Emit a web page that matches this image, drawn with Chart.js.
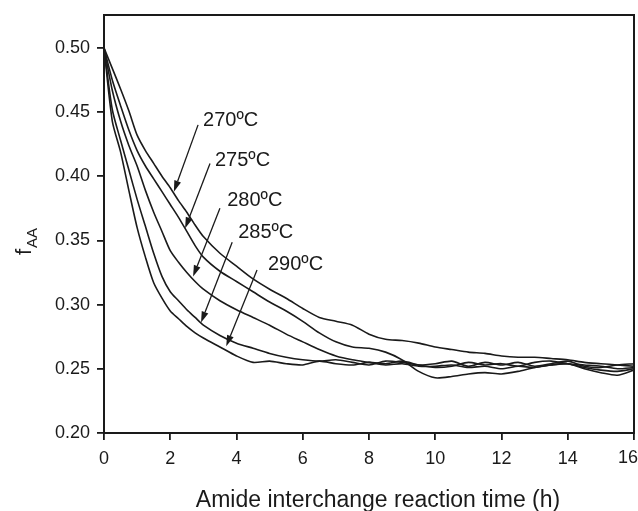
<!DOCTYPE html>
<html>
<head>
<meta charset="utf-8">
<script src="https://cdn.jsdelivr.net/npm/chart.js@4.4.0/dist/chart.umd.min.js"></script>
<style>
  html, body { margin: 0; padding: 0; background: #fff; }
  #wrap { width: 638px; height: 511px; }
</style>
</head>
<body>
<div id="wrap"><canvas id="fChart" width="638" height="511"></canvas></div>
<script>
// Data
const times = [0, 0.25, 0.5, 0.75, 1, 1.25, 1.5, 1.75, 2, 2.25, 2.5, 2.75, 3,
    3.5, 4, 4.5, 5, 5.5, 6, 6.5, 7, 7.5, 8, 8.5, 9, 9.5, 10, 10.5, 11, 11.5,
    12, 12.5, 13, 13.5, 14, 14.5, 15, 15.5, 16];

const f270 = [0.500, 0.484, 0.468, 0.451, 0.432, 0.420, 0.410, 0.400, 0.391, 0.381, 0.372, 0.362, 0.353,
    0.340, 0.330, 0.320, 0.312, 0.305, 0.297, 0.290, 0.287, 0.284, 0.277, 0.273, 0.272, 0.270, 0.267,
    0.265, 0.263, 0.262, 0.260, 0.259, 0.259, 0.258, 0.257, 0.255, 0.254, 0.253, 0.252];
const f275 = [0.500, 0.475, 0.455, 0.436, 0.420, 0.408, 0.398, 0.388, 0.378, 0.368, 0.357, 0.346, 0.337,
    0.326, 0.318, 0.310, 0.302, 0.295, 0.287, 0.278, 0.271, 0.267, 0.266, 0.263, 0.257, 0.248, 0.243,
    0.244, 0.246, 0.247, 0.246, 0.248, 0.251, 0.253, 0.254, 0.250, 0.247, 0.245, 0.249];
const f280 = [0.500, 0.467, 0.443, 0.424, 0.408, 0.389, 0.372, 0.357, 0.342, 0.333, 0.325, 0.318, 0.312,
    0.303, 0.296, 0.290, 0.284, 0.277, 0.271, 0.265, 0.260, 0.257, 0.255, 0.253, 0.254, 0.252, 0.252,
    0.253, 0.251, 0.252, 0.250, 0.252, 0.251, 0.253, 0.254, 0.251, 0.249, 0.248, 0.250];
const f285 = [0.500, 0.452, 0.428, 0.405, 0.382, 0.361, 0.340, 0.322, 0.310, 0.303, 0.296, 0.290, 0.284,
    0.276, 0.270, 0.266, 0.262, 0.259, 0.257, 0.256, 0.257, 0.255, 0.253, 0.256, 0.255, 0.253, 0.254,
    0.256, 0.252, 0.255, 0.253, 0.255, 0.252, 0.254, 0.256, 0.252, 0.251, 0.253, 0.254];
const f290 = [0.500, 0.443, 0.419, 0.389, 0.360, 0.337, 0.317, 0.305, 0.295, 0.289, 0.283, 0.278, 0.274,
    0.267, 0.260, 0.255, 0.256, 0.254, 0.253, 0.256, 0.254, 0.253, 0.255, 0.254, 0.256, 0.253, 0.251,
    0.252, 0.255, 0.253, 0.254, 0.252, 0.255, 0.256, 0.254, 0.253, 0.252, 0.250, 0.251];

const seriesNames = ['270ºC', '275ºC', '280ºC', '285ºC', '290ºC'];
const seriesValues = [f270, f275, f280, f285, f290];

const xTicks = [0, 2, 4, 6, 8, 10, 12, 14, 16];
const yTicks = [0.20, 0.25, 0.30, 0.35, 0.40, 0.45, 0.50];

// Arrow annotations (in data units): tip on the curve, tail at the label
const arrowTips  = [[2.11, 0.388], [2.45, 0.3595], [2.69, 0.322], [2.93, 0.286], [3.69, 0.2676]];
const arrowTails = [[2.84, 0.440], [3.20, 0.410], [3.50, 0.375], [3.87, 0.3486], [4.62, 0.327]];
const labelSpots = [[2.99, 0.4436], [3.35, 0.412], [3.72, 0.381], [4.05, 0.356], [4.95, 0.331]];

const FONT = "'Liberation Sans', Arial, sans-serif";
const INK = '#1a1a1a';
const lastX = xTicks[xTicks.length - 1];

// Frame, arrows, labels and axis titles
const decorPlugin = {
    id: 'decor',
    afterDatasetsDraw(chart) {
        const ctx = chart.ctx;
        const xs = chart.scales.x, ys = chart.scales.y;
        ctx.save();
        ctx.strokeStyle = INK;
        ctx.fillStyle = INK;
        ctx.lineWidth = 1.3;
        for (let i = 0; i < arrowTips.length; i++) {
            const tx = xs.getPixelForValue(arrowTips[i][0]), ty = ys.getPixelForValue(arrowTips[i][1]);
            const sx = xs.getPixelForValue(arrowTails[i][0]), sy = ys.getPixelForValue(arrowTails[i][1]);
            const ang = Math.atan2(ty - sy, tx - sx);
            const len = 11, hw = 3.5;
            const bx = tx - len * Math.cos(ang), by = ty - len * Math.sin(ang);
            ctx.beginPath();
            ctx.moveTo(sx, sy);
            ctx.lineTo(bx, by);
            ctx.stroke();
            ctx.beginPath();
            ctx.moveTo(tx, ty);
            ctx.lineTo(bx + hw * Math.sin(ang), by - hw * Math.cos(ang));
            ctx.lineTo(bx - hw * Math.sin(ang), by + hw * Math.cos(ang));
            ctx.closePath();
            ctx.fill();

            ctx.font = '20px ' + FONT;
            ctx.textAlign = 'left';
            ctx.textBaseline = 'middle';
            ctx.fillText(seriesNames[i], xs.getPixelForValue(labelSpots[i][0]), ys.getPixelForValue(labelSpots[i][1]));
        }
        ctx.restore();
    },
    afterDraw(chart) {
        const ctx = chart.ctx;
        const a = chart.chartArea;
        ctx.save();
        ctx.strokeStyle = INK;
        ctx.lineWidth = 2;
        ctx.strokeRect(a.left, a.top, a.right - a.left, a.bottom - a.top);

        ctx.fillStyle = INK;
        // last x tick label, pulled inside the canvas
        ctx.font = '18px ' + FONT;
        ctx.textAlign = 'right';
        ctx.textBaseline = 'middle';
        ctx.fillText(String(lastX), chart.scales.x.getPixelForValue(lastX) + 4, a.bottom + 25);

        // x title
        ctx.font = '23px ' + FONT;
        ctx.textAlign = 'center';
        ctx.textBaseline = 'alphabetic';
        ctx.fillText('Amide interchange reaction time (h)', (a.left + a.right) / 2 + 9, 507);

        // y title: f with subscript AA
        ctx.translate(31, 242);
        ctx.rotate(-Math.PI / 2);
        ctx.textAlign = 'left';
        ctx.font = '22px ' + FONT;
        const fw = ctx.measureText('f').width;
        ctx.font = '15px ' + FONT;
        const sw = ctx.measureText('AA').width;
        const start = -(fw + sw) / 2;
        ctx.font = '22px ' + FONT;
        ctx.fillText('f', start, 0);
        ctx.font = '15px ' + FONT;
        ctx.fillText('AA', start + fw + 1, 6);
        ctx.restore();
    }
};

const ctx = document.getElementById('fChart').getContext('2d');
new Chart(ctx, {
    type: 'line',
    data: {
        datasets: seriesValues.map((vals, i) => ({
            label: seriesNames[i],
            data: times.map((t, k) => ({ x: t, y: vals[k] })),
            borderColor: INK,
            borderWidth: 1.6,
            pointRadius: 0,
            tension: 0.25,
            fill: false
        }))
    },
    options: {
        responsive: false,
        animation: false,
        layout: { padding: { top: 15, right: 4, left: 0, bottom: 0 } },
        plugins: {
            legend: { display: false },
            tooltip: { enabled: false }
        },
        scales: {
            x: {
                type: 'linear',
                min: 0,
                max: 16,
                afterBuildTicks: (scale) => { scale.ticks = xTicks.map(v => ({ value: v })); },
                afterFit: (scale) => { scale.height = 78; scale.paddingLeft = 0; scale.paddingRight = 0; },
                border: { display: false },
                grid: { drawOnChartArea: false, drawTicks: true, tickLength: 7, color: INK, lineWidth: 1.8 },
                ticks: {
                    color: INK, padding: 8, font: { family: FONT, size: 18 }, maxRotation: 0,
                    callback: (v) => (v === lastX ? '' : String(v))
                }
            },
            y: {
                type: 'linear',
                min: 0.20,
                max: 0.5256,
                afterBuildTicks: (scale) => { scale.ticks = yTicks.map(v => ({ value: v })); },
                afterFit: (scale) => { scale.width = 104; scale.paddingTop = 0; scale.paddingBottom = 0; },
                border: { display: false },
                grid: { drawOnChartArea: false, drawTicks: true, tickLength: 7, color: INK, lineWidth: 1.8 },
                ticks: {
                    color: INK, padding: 7, font: { family: FONT, size: 18 },
                    callback: (v) => Number(v).toFixed(2)
                }
            }
        }
    },
    plugins: [decorPlugin]
});
</script>
</body>
</html>
